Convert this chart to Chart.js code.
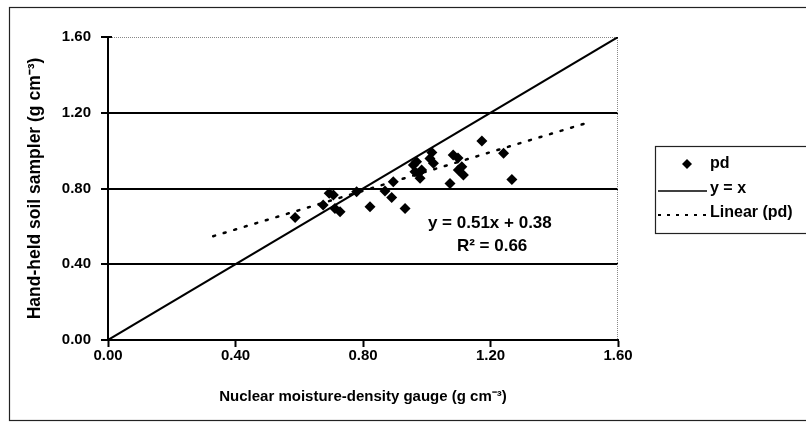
<!DOCTYPE html>
<html><head><meta charset="utf-8">
<script src="https://cdn.jsdelivr.net/npm/chart.js@4"></script>
<style>html,body{margin:0;padding:0;background:#fff}#wrap{width:806px;height:429px;position:relative}</style>
</head><body><div id="wrap"><canvas id="c" width="806" height="429"></canvas></div>
<script>
// ---- data ----
const xTickValues = [0, 0.4, 0.8, 1.2, 1.6];
const yTickValues = [0, 0.4, 0.8, 1.2, 1.6];
const pdX = [0.587, 0.675, 0.694, 0.707, 0.712, 0.728, 0.780, 0.822, 0.869, 0.895, 0.890, 0.932,
             0.958, 0.963, 0.968, 0.974, 0.979, 0.984, 1.010, 1.016, 1.021, 1.073, 1.083, 1.098,
             1.099, 1.110, 1.115, 1.173, 1.241, 1.267];
const pdY = [0.647, 0.713, 0.775, 0.766, 0.695, 0.677, 0.783, 0.704, 0.787, 0.836, 0.752, 0.695,
             0.924, 0.889, 0.941, 0.880, 0.854, 0.898, 0.959, 0.990, 0.933, 0.827, 0.977, 0.961,
             0.898, 0.915, 0.871, 1.051, 0.986, 0.848];
const oneToOneX = [0, 1.6];
const oneToOneY = [0, 1.6];
const trendX = [0.33, 1.50];
const trendY = [0.548, 1.145];
const equationText = "y = 0.51x + 0.38";
const r2Text = "R\u00B2 = 0.66";
const legendLabels = ["pd", "y = x", "Linear (pd)"];
const xTitle = "Nuclear moisture-density gauge (g cm\u207B\u00B3)";
const yTitle = "Hand-held soil sampler (g cm\u207B\u00B3)";

const zip = (xs, ys) => xs.map((x, i) => ({x, y: ys[i]}));
const FONT = "'Liberation Sans', Arial, sans-serif";

const decor = {
  id: 'decor',
  beforeDraw(chart) {
    const ctx = chart.ctx;
    ctx.save();
    ctx.fillStyle = '#fff';
    ctx.fillRect(0, 0, chart.width, chart.height);
    ctx.strokeStyle = '#222';
    ctx.lineWidth = 1.2;
    ctx.strokeRect(9.5, 7.5, 800, 413);
    ctx.restore();
  },
  beforeDatasetsDraw(chart) {
    const {ctx, chartArea: a, scales: {y}} = chart;
    ctx.save();
    ctx.strokeStyle = '#888';
    ctx.lineWidth = 1;
    ctx.setLineDash([1, 1]);
    ctx.beginPath();
    ctx.moveTo(a.left, a.top + 0.5);
    ctx.lineTo(a.right - 0.5, a.top + 0.5);
    ctx.lineTo(a.right - 0.5, a.bottom);
    ctx.stroke();
    ctx.setLineDash([]);
    ctx.strokeStyle = '#000';
    ctx.lineWidth = 2;
    yTickValues.forEach(v => {
      const py = Math.round(y.getPixelForValue(v));
      ctx.beginPath(); ctx.moveTo(a.left, py); ctx.lineTo(a.left + 4, py); ctx.stroke();
    });
    ctx.restore();
  },
  afterDatasetsDraw(chart) {
    const {ctx, scales: {x, y}} = chart;
    ctx.save();
    ctx.fillStyle = '#000';
    ctx.font = "bold 17px " + FONT;
    ctx.textAlign = 'center';
    ctx.textBaseline = 'middle';
    ctx.fillText(equationText, x.getPixelForValue(1.198), y.getPixelForValue(0.618));
    ctx.fillText(r2Text, x.getPixelForValue(1.205), y.getPixelForValue(0.496));
    ctx.restore();
  },
  afterDraw(chart) {
    const ctx = chart.ctx;
    ctx.save();
    const bx = 655, by = 146, bw = 160, bh = 87;
    ctx.strokeStyle = '#222';
    ctx.lineWidth = 1.2;
    ctx.strokeRect(bx + 0.5, by + 0.5, bw, bh);
    ctx.font = "bold 16px " + FONT;
    ctx.fillStyle = '#000';
    ctx.textBaseline = 'middle';
    ctx.textAlign = 'left';
    const rows = [by + 18, by + 43, by + 67];
    const tx = 710;
    ctx.beginPath();
    const cx = 687, cy = rows[0], r = 5;
    ctx.moveTo(cx, cy - r); ctx.lineTo(cx + r, cy); ctx.lineTo(cx, cy + r); ctx.lineTo(cx - r, cy); ctx.closePath();
    ctx.fill();
    ctx.fillText(legendLabels[0], tx, rows[0]);
    ctx.strokeStyle = '#000';
    ctx.lineWidth = 1.5;
    ctx.beginPath(); ctx.moveTo(658, rows[1] + 2); ctx.lineTo(707, rows[1] + 2); ctx.stroke();
    ctx.fillText(legendLabels[1], tx, rows[1]);
    ctx.lineWidth = 2;
    ctx.setLineDash([3, 6]);
    ctx.beginPath(); ctx.moveTo(658, rows[2] + 2); ctx.lineTo(707, rows[2] + 2); ctx.stroke();
    ctx.setLineDash([]);
    ctx.fillText(legendLabels[2], tx, rows[2]);
    ctx.restore();
  }
};

new Chart(document.getElementById('c'), {
  type: 'scatter',
  data: {
    datasets: [
      { label: legendLabels[0], data: zip(pdX, pdY), pointStyle: 'rectRot', pointRadius: 5.5,
        backgroundColor: '#000', borderColor: '#000', borderWidth: 0, order: 1 },
      { type: 'line', label: legendLabels[1], data: zip(oneToOneX, oneToOneY), borderColor: '#000',
        borderWidth: 2, pointRadius: 0, fill: false, order: 2 },
      { type: 'line', label: legendLabels[2], data: zip(trendX, trendY), borderColor: '#000',
        borderWidth: 2.5, borderDash: [2, 9], borderCapStyle: 'round', pointRadius: 0, fill: false, order: 3 }
    ]
  },
  options: {
    responsive: false,
    animation: false,
    devicePixelRatio: 1,
    layout: { padding: { left: 0, right: 188, top: 37, bottom: 0 } },
    plugins: { legend: { display: false }, tooltip: { enabled: false } },
    scales: {
      x: {
        type: 'linear', min: 0, max: 1.6,
        afterBuildTicks: s => { s.ticks = xTickValues.map(v => ({value: v})); },
        afterFit: s => { s.height = 89; },
        ticks: { callback: v => Number(v).toFixed(2), color: '#000', padding: 0,
                 font: { family: FONT, size: 15, weight: 'bold' }, maxRotation: 0 },
        grid: { drawOnChartArea: false, tickLength: 7, tickColor: '#000', tickWidth: 2 },
        border: { color: '#000', width: 2 },
        title: { display: true, text: xTitle, color: '#000', padding: { top: 0, bottom: 23 },
                 font: { family: FONT, size: 15, weight: 'bold' } }
      },
      y: {
        type: 'linear', min: 0, max: 1.6,
        afterBuildTicks: s => { s.ticks = yTickValues.map(v => ({value: v})); },
        afterFit: s => { s.width = 108; },
        ticks: { callback: v => Number(v).toFixed(2), color: '#000', padding: 10,
                 font: { family: FONT, size: 15, weight: 'bold' } },
        grid: {
          color: c => (c.tick && c.tick.value > 0.01 && c.tick.value < 1.59) ? '#000' : 'rgba(0,0,0,0)',
          lineWidth: 2, tickLength: 7, tickColor: '#000', tickWidth: 2
        },
        border: { color: '#000', width: 2 },
        title: { display: true, text: yTitle, color: '#000', padding: { top: 25, bottom: 0 },
                 font: { family: FONT, size: 17.5, weight: 'bold' } }
      }
    }
  },
  plugins: [decor]
});
</script>
</body></html>
